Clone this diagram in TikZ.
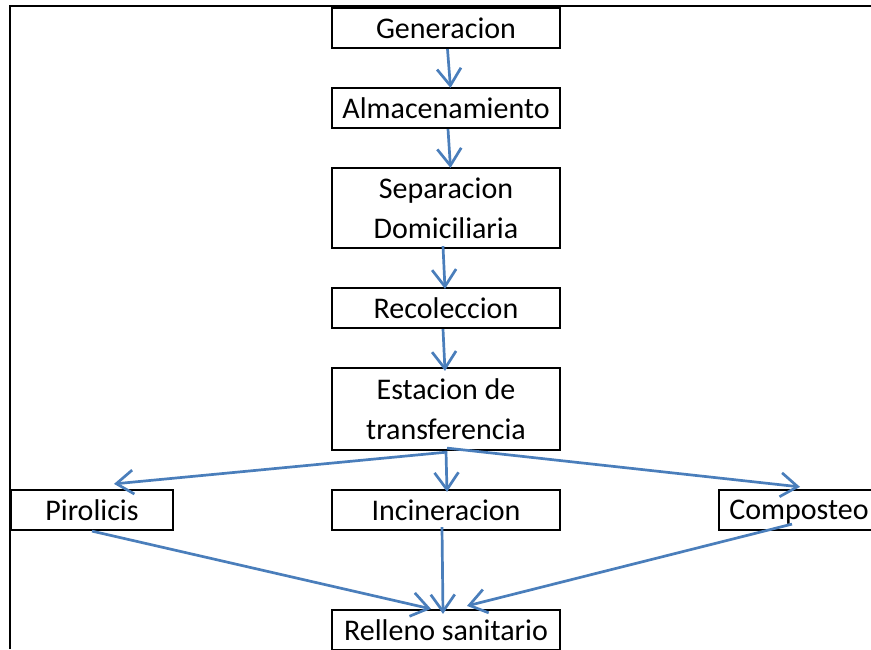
\documentclass[tikz,border=0pt]{standalone}
\usepackage{fontspec}
\setmainfont{Carlito}
\usepackage{xcolor}
\usetikzlibrary{arrows.meta}
\definecolor{azul}{HTML}{4A7EBB}
\tikzset{
  caja/.style={draw, line width=2.2pt, minimum width=228pt, minimum height=40pt,
    inner sep=0pt, align=center, font=\fontsize{30}{40}\selectfont},
  flecha/.style={draw=azul, line width=2.7pt,
    -{Straight Barb[length=17pt,width=24pt]}}
}
\begin{document}
\begin{tikzpicture}[x=1pt,y=-1pt]
      \useasboundingbox (0,0) rectangle (871,649);
      \clip (0,0) rectangle (871,649);
      % Frame
      \draw[line width=1.8pt] (10,649) -- (10,6) -- (871,6);
      % Boxes
      \node[caja] (gen) at (446,28) {Generacion};
      \node[caja] (alm) at (446,108) {Almacenamiento};
      \node[caja, minimum height=80pt] (sep) at (446,208) {Separacion\\Domiciliaria};
      \node[caja] (rec) at (446,308) {Recoleccion};
      \node[caja, minimum height=82pt] (est) at (446,409) {Estacion de\\transferencia};
      \node[caja, minimum width=162pt] (pir) at (92,510) {Pirolicis};
      \node[caja] (inc) at (446,510) {Incineracion};
      \node[caja, minimum width=160pt, text depth=0pt] (com) at (799,510) {Composteo};
      \node[caja] (rel) at (446,630) {Relleno sanitario};
      % Arrows
      \draw[flecha] ([xshift=1.5pt]gen.south) -- ([xshift=4.5pt,yshift=-1pt]alm.north);
      \draw[flecha] ([xshift=2pt]alm.south) -- ([xshift=4.5pt,yshift=-1pt]sep.north);
      \draw[flecha] ([xshift=-3pt,yshift=3pt]sep.south) -- ([xshift=-1pt,yshift=-2pt]rec.north);
      \draw[flecha] ([xshift=-3pt]rec.south) -- ([xshift=-1pt,yshift=-4pt]est.north);
      \draw[flecha] ([xshift=1pt,yshift=-1pt]est.south) -- ([xshift=22pt,yshift=5pt]pir.north);
      \draw[flecha] (est.south) -- ([xshift=1pt,yshift=-3pt]inc.north);
      \draw[flecha] ([xshift=1pt,yshift=3pt]est.south) -- ([xshift=1pt,yshift=2pt]com.north);
      \draw[flecha] (pir.south) -- ([xshift=-15pt]rel.north);
      \draw[flecha] ([xshift=-4pt,yshift=4pt]inc.south) -- ([xshift=-3pt,yshift=-5pt]rel.north);
      \draw[flecha] ([xshift=-7pt,yshift=7pt]com.south) -- ([xshift=21pt,yshift=3pt]rel.north);
    \end{tikzpicture}
\end{document}
